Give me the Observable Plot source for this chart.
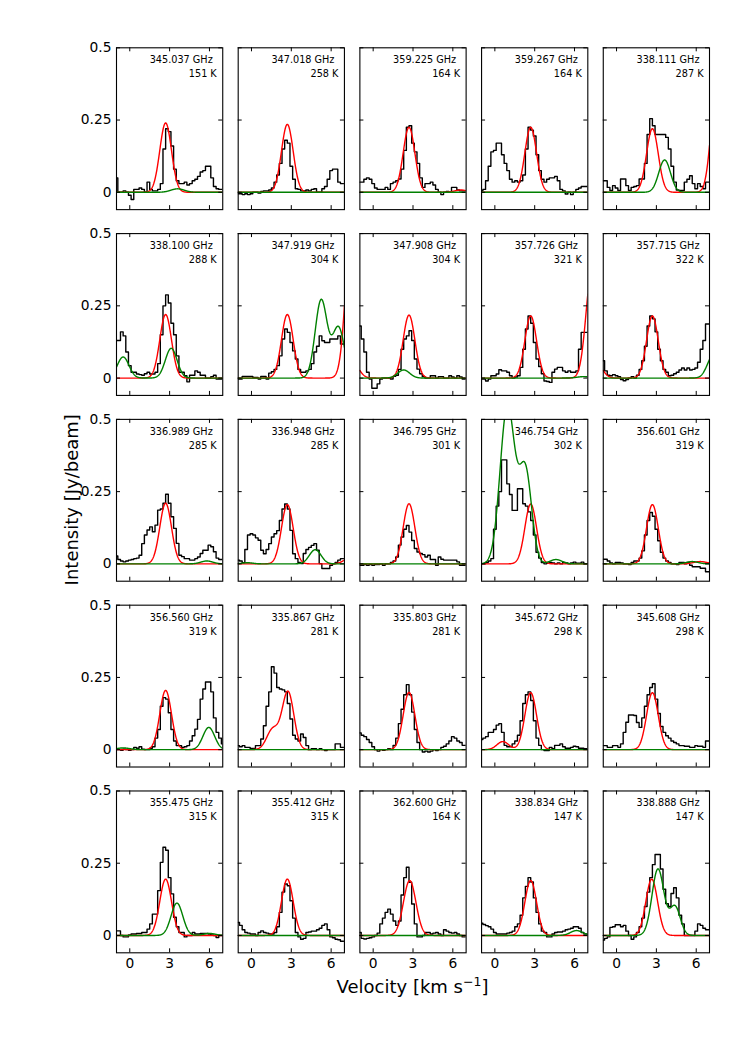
<!DOCTYPE html>
<html>
<head>
<meta charset="utf-8">
<script src="https://cdn.jsdelivr.net/npm/d3@7"></script>
<script src="https://cdn.jsdelivr.net/npm/@observablehq/plot@0.6"></script>
<style>
  html, body { margin: 0; padding: 0; background: #ffffff; }
  #chart { width: 748px; height: 1057px; }
</style>
</head>
<body>
<div id="chart"></div>
<script>
// ---------- data ----------
const velocity = [-1.0,-0.8,-0.6,-0.4,-0.2,0.0,0.2,0.4,0.6,0.8,1.0,1.2,1.4,1.6,1.8,2.0,2.2,2.4,2.6,2.8,3.0,3.2,3.4,3.6,3.8,4.0,4.2,4.4,4.6,4.8,5.0,5.2,5.4,5.6,5.8,6.0,6.2,6.4,6.6,6.8,7.0];

const frequencies = ["345.037 GHz","347.018 GHz","359.225 GHz","359.267 GHz","338.111 GHz",
                     "338.100 GHz","347.919 GHz","347.908 GHz","357.726 GHz","357.715 GHz",
                     "336.989 GHz","336.948 GHz","346.795 GHz","346.754 GHz","356.601 GHz",
                     "356.560 GHz","335.867 GHz","335.803 GHz","345.672 GHz","345.608 GHz",
                     "355.475 GHz","355.412 GHz","362.600 GHz","338.834 GHz","338.888 GHz"];
const upperEnergies = ["151 K","258 K","164 K","164 K","287 K",
                       "288 K","304 K","304 K","321 K","322 K",
                       "285 K","285 K","301 K","302 K","319 K",
                       "319 K","281 K","281 K","298 K","298 K",
                       "315 K","315 K","164 K","147 K","147 K"];

// observed spectra (Jy/beam), one value per channel of `velocity`
const spec01 = [0.05,0,0,0.005,0,-0.01,-0.025,0.01,0.01,0.015, 0.01,0,0.035,0.01,0.005,0.005,0.01,0.03,0.15,0.22, 0.21,0.16,0.08,0.04,0.03,0.03,0.035,0.025,0.03,0.04, 0.045,0.055,0.07,0.075,0.09,0.09,0.05,0.02,0.012,0.01, 0.01];
const spec02 = [-0.005,-0.005,-0.008,-0.005,-0.008,-0.005,0,0,-0.003,0.003, 0.005,0.005,0.008,0.015,0.035,0.06,0.1,0.15,0.18,0.17, 0.09,0.045,0.012,0.01,0.005,0.005,0.008,0.005,0.01,0.012, 0,0,0.012,0.02,0.045,0.075,0.08,0.08,0.035,0.03, 0.03];
const spec03 = [0.035,0.035,0.045,0.05,0.045,0.03,0.015,0.01,0.01,0.01, 0.017,0.01,0.03,0.035,0.04,0.046,0.08,0.145,0.225,0.23, 0.17,0.14,0.1,0.05,0.017,0.03,0.03,0.035,0.025,0.01, 0,-0.008,0,0.003,0,0.017,0.017,0.008,0.005,0.005, 0.005];
const spec04 = [0.005,0.01,0.04,0.09,0.14,0.145,0.17,0.17,0.13,0.1, 0.075,0.045,0.035,0.04,0.035,0.04,0.06,0.15,0.225,0.215, 0.195,0.13,0.075,0.045,0.035,0.045,0.05,0.05,0.055,0.04, 0.01,0.005,-0.006,0,-0.008,0,0.01,0.015,0.02,0.02, 0.02];
const spec05 = [0.04,0.04,0.017,0.006,0.023,0.015,0.006,0.046,0.046,0.023, 0.006,0.017,0.02,0.023,0.046,0.046,0.1,0.2,0.255,0.23, 0.2,0.2,0.2,0.2,0.19,0.15,0.09,0.035,0.008,0.006, 0.006,0.035,0.045,0.057,0.03,0.012,0.03,0.02,0.012,0.035, 0.035];
const spec06 = [0.13,0.13,0.16,0.146,0.09,0.043,0.02,0.02,0.014,0.012, 0.01,0.015,0.02,0.014,0.014,0.02,0.05,0.15,0.25,0.288, 0.26,0.19,0.15,0.077,0.02,0.02,0.008,-0.013,0.01,0.01, 0.025,0.02,0.01,0.01,0,0,0.005,0.01,-0.003,-0.003, -0.003];
const spec07 = [-0.003,-0.003,0.006,0.006,0.006,0.006,0.002,0.002,-0.003,0.006, 0.006,-0.003,0.017,0.022,0.03,0.043,0.077,0.135,0.17,0.158, 0.123,0.094,0.066,0.03,0.02,0.02,0.025,0.03,0.05,0.09, 0.11,0.146,0.129,0.123,0.123,0.135,0.135,0.135,0.146,0.118, 0.118];
const spec08 = [0.18,0.135,0.09,0.02,-0.003,-0.035,-0.035,-0.02,-0.003,0, 0,0,-0.003,0.006,0.01,0.03,0.1,0.135,0.146,0.164, 0.13,0.066,0.031,0.015,0.005,0,0,0.008,0.008,0, 0.005,0.005,0,0,0.008,0.004,0,0.008,0.004,-0.003, -0.003];
const spec09 = [-0.003,-0.003,-0.01,-0.003,0.008,0.008,0.014,0.029,0.025,0.025, 0.02,0.008,0,0.004,0.008,0.037,0.1,0.17,0.215,0.19, 0.123,0.066,0.04,0.015,-0.01,-0.012,-0.015,0.02,0.031,0.037, 0.037,0.025,0.02,0.025,0.02,0.02,0.025,0.1,0.158,0.158, 0.158];
const spec10 = [0.06,0.025,0.01,0.008,0.012,0.008,0.005,-0.005,-0.009,-0.005, 0,0.005,0,0.01,0.03,0.06,0.11,0.18,0.215,0.205, 0.16,0.1,0.06,0.03,0.02,0.008,0.01,0.015,0.02,0.028, 0.035,0.028,0.035,0.028,0.03,0.035,0.055,0.1,0.13,0.187, 0.187];
const spec11 = [0.027,0.015,0.01,0.007,0.01,0.013,0.015,0.018,0.02,0.03, 0.07,0.1,0.117,0.128,0.111,0.134,0.186,0.19,0.21,0.241, 0.21,0.163,0.123,0.071,0.03,0.025,0.018,0.018,0.013,0.013, 0.018,0.024,0.036,0.047,0.047,0.065,0.059,0.042,0.02,0.015, 0.015];
const spec12 = [0.013,0.01,0.004,0.05,0.1,0.104,0.1,0.09,0.082,0.047, 0.035,0.05,0.07,0.093,0.104,0.115,0.15,0.19,0.207,0.19, 0.116,0.035,0.018,0.005,0.001,0.036,0.05,0.057,0.064,0.07, 0.047,0.001,-0.016,-0.016,-0.016,-0.005,0,0.005,0.013,0.018, 0.018];
const spec13 = [-0.005,-0.005,-0.002,-0.005,-0.002,-0.005,-0.002,-0.002,0,-0.005, 0,0,0.005,0.01,0.024,0.065,0.093,0.12,0.133,0.11, 0.081,0.053,0.041,0.036,0.032,0.024,0.03,0.015,0.015,-0.005, 0.024,0.016,0.013,0.013,0.013,0.013,0.013,0.007,-0.005,-0.005, -0.005];
const spec14 = [0,0,0.005,0.01,0.018,0.12,0.2,0.25,0.36,0.36, 0.277,0.24,0.185,0.185,0.26,0.26,0.208,0.2,0.18,0.15, 0.1,0.04,0.02,0.005,0,0.002,0.005,0.003,0,0.003, 0,0.005,0.003,0,0.003,0.006,0.002,0.002,0.006,0, 0];
const spec15 = [0.016,0.016,0.01,0.003,0,0.005,0.005,0.003,0,0, -0.002,0.005,0.01,0.01,0.02,0.045,0.1,0.15,0.178,0.165, 0.12,0.08,0.04,0.02,0.01,0.005,0,0,-0.002,0.005, 0.005,0,0.005,-0.005,-0.01,-0.01,-0.01,-0.015,-0.015,-0.027, -0.027];
const spec16 = [0,0,-0.002,0.002,0,-0.002,0,0.008,0.005,0.01, 0.002,0,0,0.005,0.01,0.04,0.07,0.15,0.18,0.175, 0.128,0.07,0.03,0.014,0.014,0.008,0.01,0.014,0.03,0.048, 0.071,0.105,0.175,0.21,0.234,0.234,0.2,0.11,0.06,0.04, 0.02];
const spec17 = [0.014,0.01,0.014,0.008,0.008,0.004,0.004,0.014,0.014,0.037, 0.083,0.15,0.2,0.287,0.265,0.215,0.21,0.207,0.2,0.16, 0.106,0.05,0.037,0.03,0.054,0.042,0.014,0,0.003,0.003, 0,0.003,0,-0.003,0,0,0,0.02,0.02,0.008, 0.008];
const spec18 = [0.058,0.05,0.045,0.035,0.025,0.01,0,-0.005,0,-0.002, 0,0.003,0,0.015,0.04,0.09,0.14,0.19,0.225,0.19, 0.13,0.07,0.025,0,-0.008,-0.005,-0.008,-0.005,0,-0.003, 0,0.008,0.012,0.02,0.03,0.045,0.04,0.03,0.025,0.015, 0.015];
const spec19 = [0.035,0.04,0.045,0.06,0.06,0.07,0.085,0.09,0.06,0.015, 0.01,0.01,0.02,0.03,0.05,0.1,0.16,0.19,0.2,0.17, 0.1,0.04,0.015,0,-0.003,-0.003,0.008,0.003,0.015,0.015, 0.02,0.01,0.005,0.005,0.008,0.012,0.01,0.005,0.005,0.003, 0.003];
const spec20 = [0.014,0.014,0.008,0.008,0.014,0.014,0.008,0.02,0.06,0.095, 0.12,0.12,0.118,0.094,0.077,0.11,0.15,0.19,0.215,0.228, 0.175,0.125,0.08,0.06,0.048,0.04,0.03,0.025,0.02,0.014, 0.014,0.012,0.012,0.008,0.008,0.014,0.012,0.012,0.008,0.03, 0.03];
const spec21 = [0.016,0.016,0,-0.005,-0.005,0.002,0.005,0.005,0.007,0.007, 0.01,0.01,0.022,0.04,0.074,0.074,0.155,0.253,0.305,0.295, 0.2,0.144,0.063,0.03,0.01,0.01,-0.005,0,0,0.01, 0.005,0.005,0.007,0.007,0.007,0.005,0.002,0,-0.007,0, 0];
const spec22 = [0.045,0.035,0.02,0.01,0.008,0.005,0.005,0,0.01,0.016, 0.01,0.008,0.005,0.005,0.01,0.03,0.08,0.15,0.178,0.172, 0.12,0.06,0.01,-0.005,-0.013,-0.01,0.01,0.012,0.015,0.015, 0.02,0.025,0.035,0.04,0.02,-0.005,-0.008,-0.013,-0.015,-0.02, -0.02];
const spec23 = [0.01,-0.01,-0.012,-0.01,-0.008,-0.005,0,0.008,0.04,0.06, 0.08,0.091,0.074,0.05,0.035,0.05,0.14,0.2,0.236,0.184, 0.109,0.04,-0.005,-0.005,0,0.01,0.01,0.005,0.008,0.01, 0.005,0,0.02,0.015,0.01,0.008,0.01,0.005,0,-0.005, -0.005];
const spec24 = [0.042,0.038,0.034,0.03,0.022,0.01,0.005,0.005,0.005,0.005, 0.008,0.01,0.015,0.03,0.04,0.07,0.13,0.17,0.2,0.185, 0.13,0.08,0.04,0.015,0.01,-0.005,-0.005,0.005,0.01,0.012, 0.012,0.015,0.02,0.022,0.025,0.03,0.03,0.025,0.01,0.005, 0.005];
const spec25 = [-0.016,-0.01,-0.005,0.028,0.03,0.037,0.037,0.03,0.035,0.015, 0,-0.013,-0.005,0.01,0.03,0.06,0.1,0.15,0.2,0.245, 0.28,0.28,0.23,0.16,0.11,0.1,0.145,0.165,0.13,0.07, 0.04,0,0,0,0,0.015,0.04,0.035,0.025,0.02, 0.02];
const spectra = [spec01,spec02,spec03,spec04,spec05,spec06,spec07,spec08,spec09,spec10,
                 spec11,spec12,spec13,spec14,spec15,spec16,spec17,spec18,spec19,spec20,
                 spec21,spec22,spec23,spec24,spec25];

// fitted model components: [amplitude, centre km/s, sigma km/s]
const redComponents = [
  [[0.24,2.7,0.44]], [[0.235,2.7,0.44]], [[0.225,2.7,0.44],[0.008,6.6,0.45]], [[0.225,2.7,0.44]], [[0.22,2.7,0.44],[0.41,7.6,0.44]],
  [[0.22,2.7,0.44]], [[0.22,2.7,0.44],[0.53,7.54,0.44]], [[0.218,2.7,0.44],[0.05,-1.5,0.44]], [[0.215,2.7,0.44],[0.366,7.3,0.44]], [[0.215,2.7,0.44],[0.05,-1.5,0.44]],
  [[0.21,2.7,0.44]], [[0.205,2.7,0.44],[0.02,7.4,0.44]], [[0.208,2.7,0.44]], [[0.207,2.7,0.44]], [[0.205,2.7,0.44],[0.008,6.3,0.5]],
  [[0.205,2.7,0.44]], [[0.2,2.75,0.44],[0.07,1.6,0.45]], [[0.198,2.7,0.44]], [[0.197,2.7,0.44],[0.028,0.6,0.44]], [[0.197,2.7,0.44]],
  [[0.195,2.7,0.44]], [[0.195,2.7,0.44]], [[0.19,2.75,0.47]], [[0.19,2.7,0.44]], [[0.195,2.65,0.44]]
];
const greenComponents = [
  [[0.012,3.6,0.5]], [], [], [], [[0.112,3.62,0.44]],
  [[0.073,-0.5,0.44],[0.103,3.12,0.44]], [[0.27,5.25,0.45],[0.175,6.55,0.45]], [[0.028,2.3,0.45]], [[0.005,6.7,0.5]], [[0.08,7.3,0.45]],
  [[0.01,5.8,0.45]], [[0.049,4.8,0.44],[0.004,-0.3,0.4]], [], [[0.545,0.95,0.55],[0.32,2.3,0.47],[0.015,4.6,0.45]], [[0.008,5.7,0.45]],
  [[0.077,5.95,0.44],[0.006,-0.5,0.5]], [], [], [], [],
  [[0.112,3.55,0.44],[0.007,6.0,0.45]], [], [], [[0.017,6.15,0.45]], [[0.23,3.12,0.45],[0.1,4.4,0.4]]
];

const xTicks = [0, 3, 6];
const yTicks = [0, 0.25, 0.5];
const yTickLabels = ["0", "0.25", "0.5"];
const xLabel = "Velocity [km s";
const yLabel = "Intensity [Jy/beam]";

// ---------- layout ----------
const W = 748, H = 1057;
const mL = 116, mR = 39, mT = 47.3, mB = 104.7;
const nCols = 5, nRows = 5;
const padX = 0.127, padY = 0.129;
const panelW = (W - mL - mR) / (nCols - padX) * (1 - padX);
const panelH = (H - mT - mB) / (nRows - padY) * (1 - padY);
const tickLen = 4;

// ---------- tables ----------
const panels = frequencies.map((f, k) => ({panel: k, col: k % nCols, row: Math.floor(k / nCols), freq: f, eup: upperEnergies[k]}));
const specRows = panels.flatMap(p => velocity.map((v, i) => ({panel: p.panel, col: p.col, row: p.row, v, value: spectra[p.panel][i]})));
const modelGrid = d3.range(0, 401).map(j => -1 + j * 0.02);
const gauss = (comps, v) => comps.reduce((s, [a, c, w]) => s + a * Math.exp(-((v - c) ** 2) / (2 * w * w)), 0);
const modelRows = comps => panels.flatMap(p => modelGrid.map(v => ({panel: p.panel, col: p.col, row: p.row, v, value: gauss(comps[p.panel], v)})));
const redRows = modelRows(redComponents);
const greenRows = modelRows(greenComponents);

const chart = Plot.plot({
  width: W,
  height: H,
  marginLeft: mL, marginRight: mR, marginTop: mT, marginBottom: mB,
  style: {fontFamily: "DejaVu Sans", fontSize: "13.8px", background: "#ffffff", color: "#000", overflow: "visible"},
  fx: {domain: d3.range(nCols), paddingInner: padX, paddingOuter: 0, round: false, axis: null},
  fy: {domain: d3.range(nRows), paddingInner: padY, paddingOuter: 0, round: false, axis: null},
  x: {domain: [-1, 7], ticks: xTicks, tickSize: 0, tickPadding: 5.5, label: null, tickFormat: d => String(d)},
  y: {domain: [-0.06, 0.5], ticks: yTicks, tickSize: 0, tickPadding: 5, label: null, tickFormat: d => yTickLabels[yTicks.indexOf(d)]},
  marks: [
    Plot.line(specRows, {x: "v", y: "value", z: "panel", fx: "col", fy: "row", curve: "step", stroke: "#000000", strokeWidth: 1.4, clip: true}),
    Plot.line(redRows, {x: "v", y: "value", z: "panel", fx: "col", fy: "row", stroke: "#ff0000", strokeWidth: 1.4, clip: true}),
    Plot.line(greenRows, {x: "v", y: "value", z: "panel", fx: "col", fy: "row", stroke: "#008000", strokeWidth: 1.4, clip: true}),
    Plot.ruleX(xTicks, {x: d => d, insetTop: panelH - tickLen, stroke: "#000", strokeWidth: 1}),
    Plot.ruleX(xTicks, {x: d => d, insetBottom: panelH - tickLen, stroke: "#000", strokeWidth: 1}),
    Plot.ruleY(yTicks, {y: d => d, insetRight: panelW - tickLen, stroke: "#000", strokeWidth: 1}),
    Plot.ruleY(yTicks, {y: d => d, insetLeft: panelW - tickLen, stroke: "#000", strokeWidth: 1}),
    Plot.frame({stroke: "#000", strokeWidth: 1.1}),
    Plot.text(panels, {fx: "col", fy: "row", text: "freq", frameAnchor: "top-right", lineAnchor: "top", textAnchor: "end", dx: -10, dy: 8.5, fontSize: 9.7, fill: "#000"}),
    Plot.text(panels, {fx: "col", fy: "row", text: "eup", frameAnchor: "top-right", lineAnchor: "top", textAnchor: "end", dx: -6, dy: 22.5, fontSize: 9.7, fill: "#000"})
  ]
});

document.getElementById("chart").appendChild(chart);

// axis titles
const svg = d3.select(chart);
const xt = svg.append("text")
  .attr("x", (mL + W - mR) / 2)
  .attr("y", 993)
  .attr("text-anchor", "middle")
  .attr("font-family", "DejaVu Sans")
  .attr("font-size", 18)
  .attr("fill", "#000");
xt.append("tspan").text(xLabel);
xt.append("tspan").attr("font-size", 12.5).attr("dy", -7).text("\u22121");
xt.append("tspan").attr("dy", 7).text("]");

svg.append("text")
  .attr("transform", `translate(78,${(mT + H - mB) / 2}) rotate(-90)`)
  .attr("text-anchor", "middle")
  .attr("font-family", "DejaVu Sans")
  .attr("font-size", 18)
  .attr("fill", "#000")
  .text(yLabel);
</script>
</body>
</html>
